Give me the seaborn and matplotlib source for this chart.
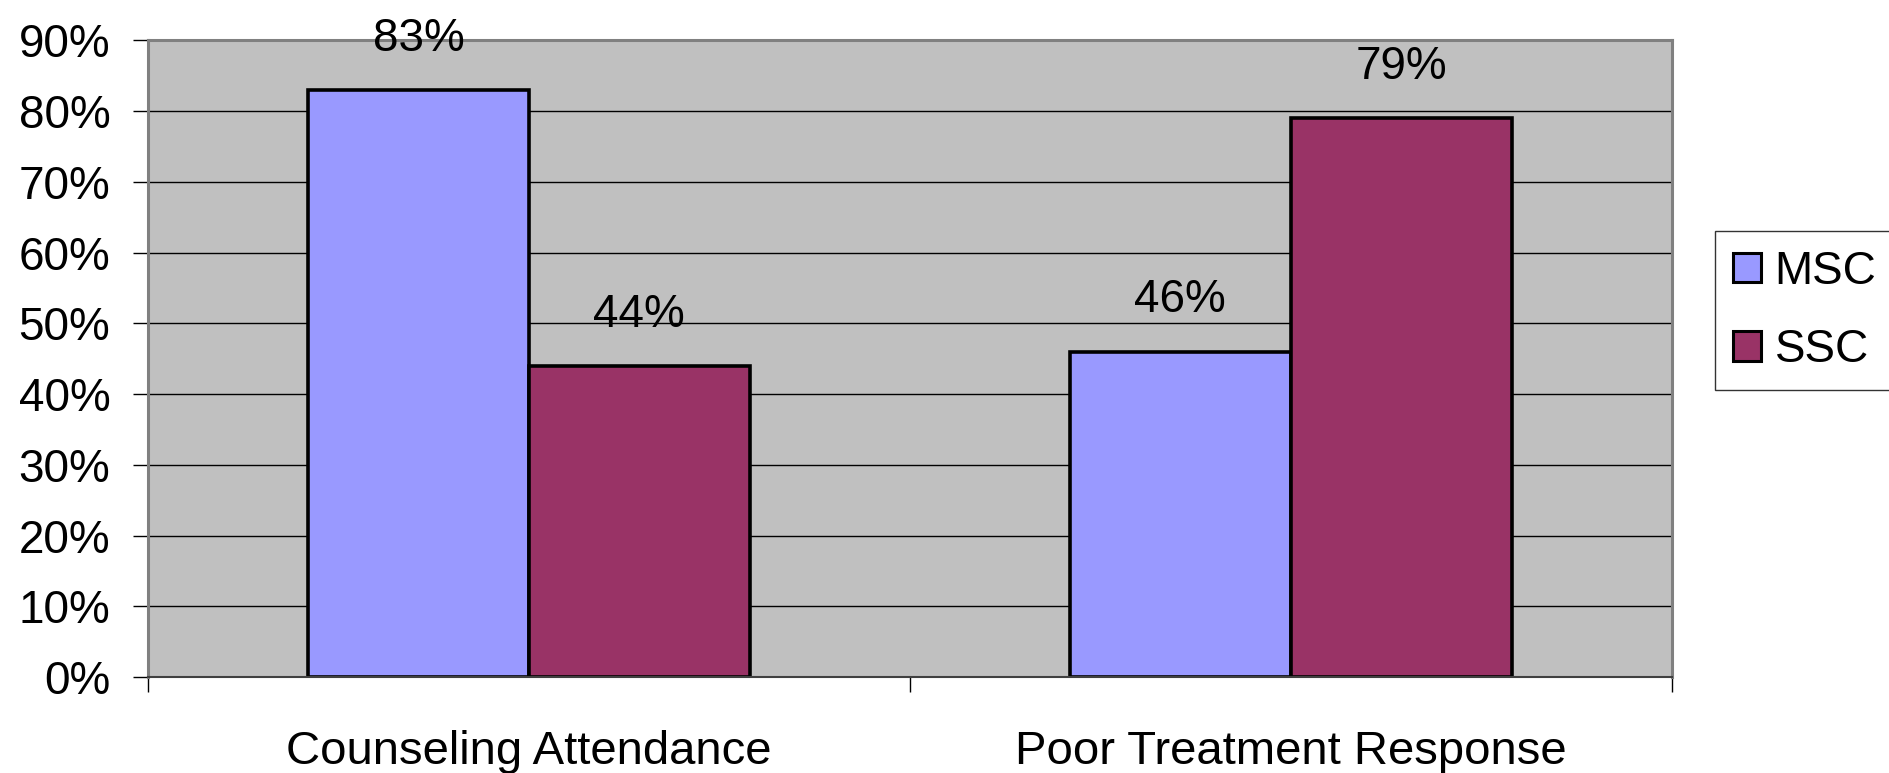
import pandas as pd
import seaborn as sns
import matplotlib.pyplot as plt
from matplotlib.patches import Patch

categories = ['Counseling Attendance', 'Poor Treatment Response']
groups = ['MSC', 'SSC']
msc_values = [83, 46]
ssc_values = [44, 79]
colors = ['#9999FF', '#993366']


def build_frame():
    rows = []
    for cat, m, s in zip(categories, msc_values, ssc_values):
        rows.append({'category': cat, 'group': 'MSC', 'value': m})
        rows.append({'category': cat, 'group': 'SSC', 'value': s})
    return pd.DataFrame(rows)


def main():
    df = build_frame()
    sns.set_style('white')
    plt.rcParams['font.family'] = ['Liberation Sans', 'DejaVu Sans']
    plt.rcParams['text.color'] = 'black'
    plt.rcParams['xtick.color'] = 'black'
    plt.rcParams['ytick.color'] = 'black'

    fig = plt.figure(figsize=(18.89, 7.73), dpi=100)
    ax = fig.add_axes([0.0783, 0.124, 0.885 - 0.0783, 0.948 - 0.124])
    ax.set_facecolor('#C0C0C0')

    sns.barplot(data=df, x='category', y='value', hue='group', hue_order=groups,
                palette=colors, width=0.58, edgecolor='black', linewidth=2.6,
                saturation=1, ax=ax, legend=False)

    ax.set_ylim(0, 90)
    ax.set_xlim(-0.5, 1.5)
    ax.set_yticks(range(0, 91, 10))
    ax.set_yticklabels([f'{v}%' for v in range(0, 91, 10)])
    ax.yaxis.grid(True, color='black', linewidth=1)
    ax.set_axisbelow(True)

    ax.set_xticks([0, 1])
    ax.set_xticklabels(categories)
    ax.set_xticks([-0.5, 0.5, 1.5], minor=True)
    ax.tick_params(axis='x', which='major', length=0, pad=38, labelsize=34)
    ax.tick_params(axis='x', which='minor', length=11, width=1, color='black',
                   direction='out', bottom=True)
    ax.tick_params(axis='y', length=11, width=1, color='black', direction='out',
                   left=True, pad=16, labelsize=33)
    ax.set_xlabel('')
    ax.set_ylabel('')

    for side in ['left', 'top', 'right']:
        ax.spines[side].set_color('#808080')
        ax.spines[side].set_linewidth(2.2)
    ax.spines['bottom'].set_color('#404040')
    ax.spines['bottom'].set_linewidth(1.5)

    for container in ax.containers:
        ax.bar_label(container, labels=[f'{int(v)}%' for v in container.datavalues],
                     padding=21, fontsize=33)

    handles = [Patch(facecolor=c, edgecolor='black', linewidth=2.2) for c in colors]
    leg = fig.legend(handles, groups, loc='center left',
                     bbox_to_anchor=(0.9079, 0.5977), borderaxespad=0,
                     fontsize=33, handlelength=0.6, handleheight=0.6,
                     handletextpad=0.3, labelspacing=0.75, frameon=True,
                     fancybox=False, borderpad=0.4)
    leg.get_frame().set_edgecolor('black')
    leg.get_frame().set_linewidth(1)

    fig.savefig('out.png', dpi=100)
    plt.close('all')


if __name__ == '__main__':
    main()
